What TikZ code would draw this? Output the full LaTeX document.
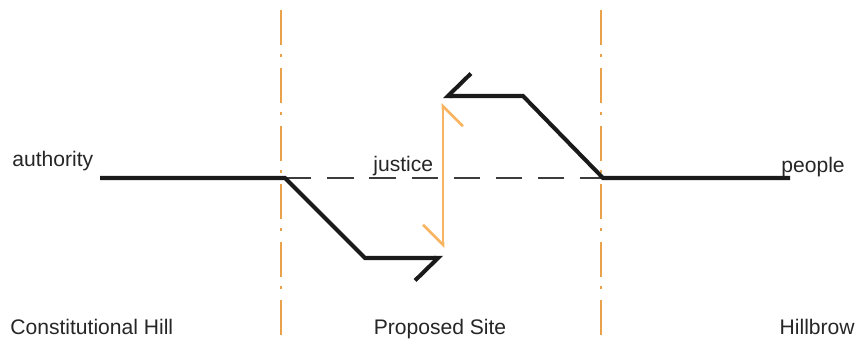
\documentclass[tikz,border=0pt]{standalone}
\usepackage{fontspec}
\setmainfont{Liberation Sans}
\usetikzlibrary{arrows.meta, positioning}
\definecolor{SiteOrange}{HTML}{E9A24A}
\definecolor{JusticeOrange}{HTML}{F8B460}
\definecolor{LineDark}{HTML}{1A1A1A}

\begin{document}
\begin{tikzpicture}[x=0.02cm, y=0.02cm,
        place/.style={font=\fontsize{12}{14}\selectfont, text=black!85, inner sep=0pt},
        boundary/.style={SiteOrange, line width=1pt, dash pattern=on 20 off 5 on 2 off 6},
        route/.style={LineDark, line width=2.3pt, line join=miter, -{Straight Barb[right, length=4.6mm, width=9mm]}},
        axis/.style={LineDark!85, line width=0.8pt, dash pattern=on 15 off 9},
        swap/.style={JusticeOrange, line width=1.5pt, {Straight Barb[right, length=4mm, width=8mm]}-{Straight Barb[right, length=4mm, width=8mm]}}]

        \useasboundingbox (0,0) rectangle (858,340);

        % zone boundaries
        \coordinate (b1top) at (281,330);
        \coordinate (b1bot) at (281,5);
        \coordinate (b2top) at (601,330);
        \coordinate (b2bot) at (601,5);
        \draw[boundary] (b1top) -- (b1bot);
        \draw[boundary] (b2top) -- (b2bot);

        % route points
        \coordinate (auth) at (100,162);
        \coordinate (k1) at (285,162);
        \coordinate (k2) at (365,82);
        \coordinate (tipL) at (443,82);
        \coordinate (peop) at (790,162);
        \coordinate (k3) at (603,162);
        \coordinate (k4) at (523,244);
        \coordinate (tipR) at (443,244);
        \coordinate (jtop) at (443,237);
        \coordinate (jbot) at (443,92);

        \draw[axis] (k1) -- (k3);
        \draw[route] (auth) -- (k1) -- (k2) -- (tipL);
        \draw[route] (peop) -- (k3) -- (k4) -- (tipR);
        \draw[swap] (jbot) -- (jtop);

        % labels
        \node[place, anchor=base west] (lauth) at (12,173) {authority};
        \node[place, anchor=base west] (ljust) at (373,168) {justice};
        \node[place, anchor=base west] (lpeop) at (781,167) {people};
        \node[place, anchor=base west] (lhill) at (10,5) {Constitutional Hill};
        \node[place, anchor=base] (lsite) at (440,5) {Proposed Site};
        \node[place, anchor=base east] (lbrow) at (855,5) {Hillbrow};
\end{tikzpicture}
\end{document}
